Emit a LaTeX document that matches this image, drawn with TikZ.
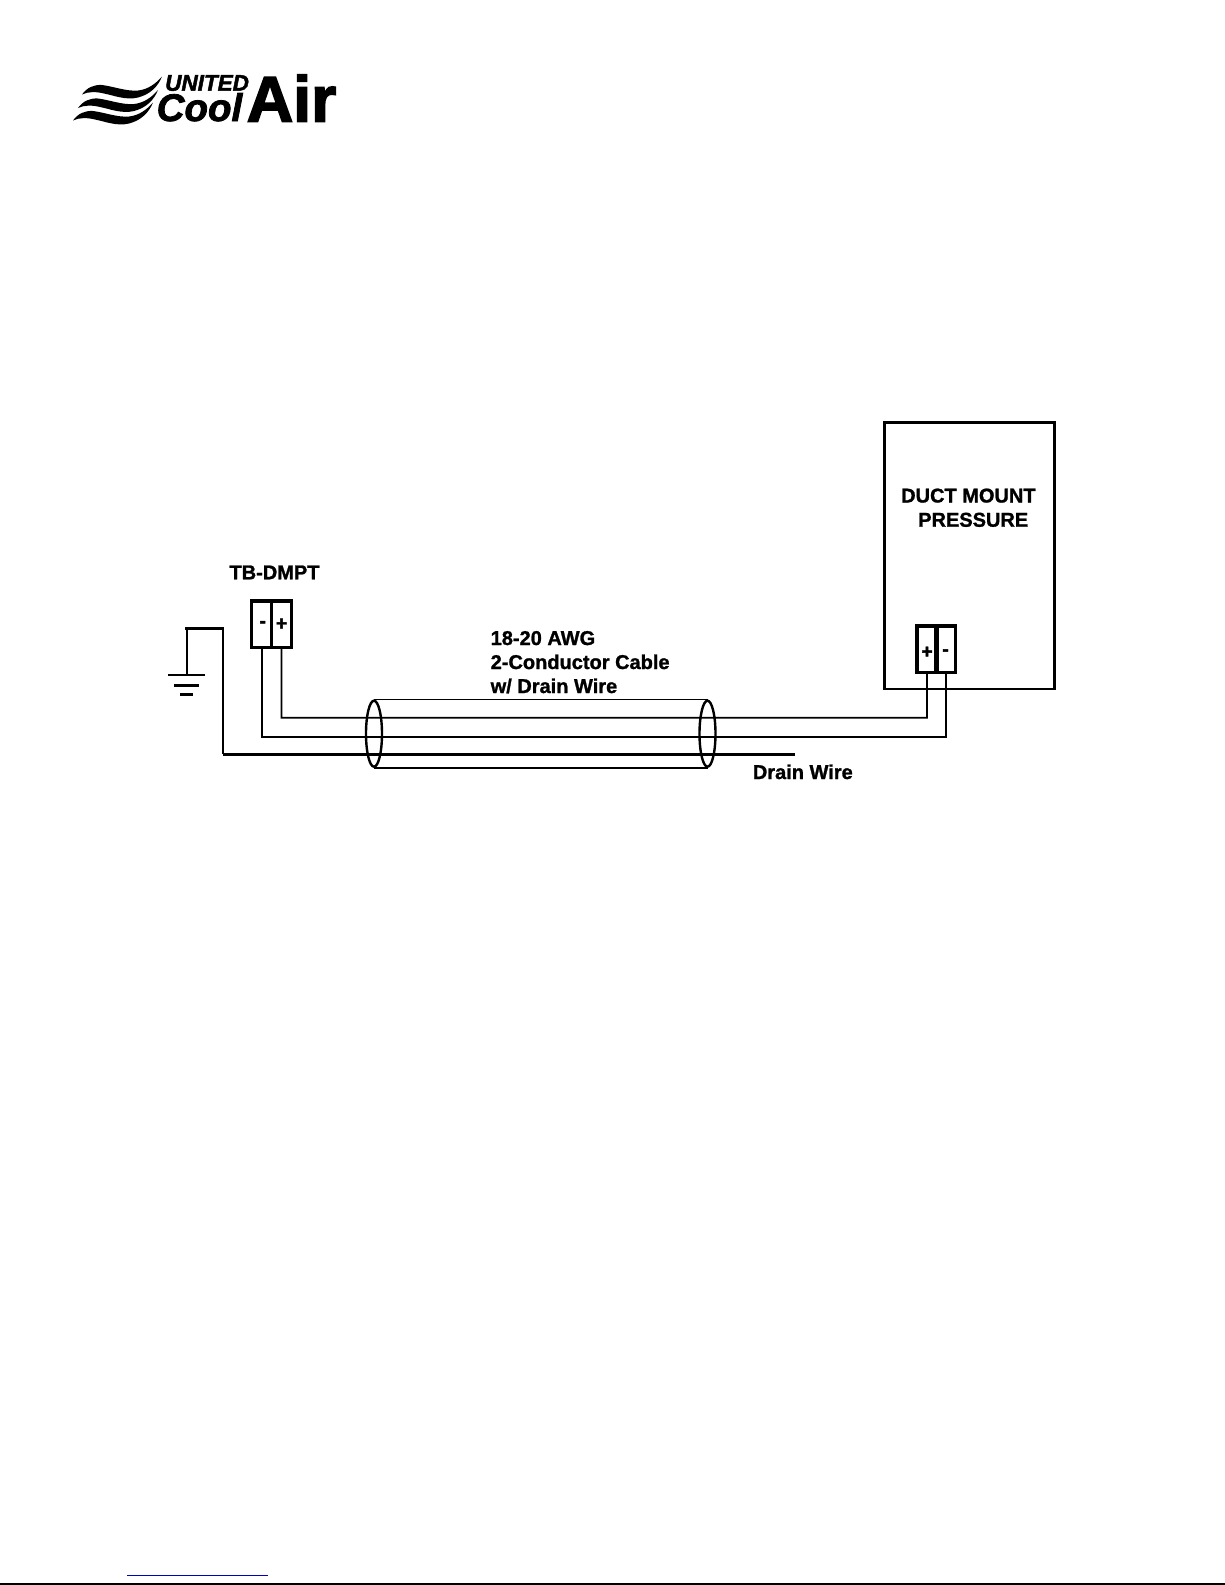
\documentclass[tikz,border=0pt]{standalone}
\usepackage{fontspec}
\setmainfont{Liberation Sans}
\newfontfamily\heavyfont[FakeBold=1.2]{Liberation Sans Bold}
\newfontfamily\logofont[FakeBold=2.5]{Liberation Sans Bold}
\newfontfamily\logoslant[FakeBold=2]{Liberation Sans Bold Italic}
\usepackage{tikz}
\usetikzlibrary{shapes.geometric}
\tikzset{
  wire/.style={line width=1.8pt},
  thickwire/.style={line width=2.9pt},
  termcell/.style={draw,line width=3.2pt,minimum width=20pt,minimum height=46.5pt,inner sep=0pt},
  cableend/.style={draw,ellipse,line width=2.4pt,minimum width=16pt,minimum height=66pt,inner sep=0pt},
  lbl/.style={anchor=base west,inner sep=0pt,font=\fontsize{20}{24}\selectfont\heavyfont},
  sign/.style={inner sep=0pt,font=\fontsize{19}{19}\selectfont\logofont}
}
\newcommand{\swoosh}[1]{\fill[black,shift={(#1)}] (0,0) .. controls (5,-7) and (12,-10) .. (20,-9.5) .. controls (32,-8) and (44,-3) .. (56,-4) .. controls (66,-5) and (74,-11) .. (80,-18) .. controls (76,-8) and (68,0) .. (56,3) .. controls (44,6) and (32,1) .. (22,-1) .. controls (14,-3) and (6,-3) .. (0,0) -- cycle;}

\begin{document}
\begin{tikzpicture}[x=1pt,y=-1pt]

\useasboundingbox (0,0) rectangle (1225,1585);

\swoosh{82,94.5}
\swoosh{78,108}
\swoosh{73,120.5}
\node[anchor=base west,inner sep=0pt,font=\fontsize{22.5}{22}\selectfont\logoslant] (logoUnited) at (165,90.7) {UNITED};
\node[anchor=base west,inner sep=0pt,font=\fontsize{38.5}{38}\selectfont\logoslant] (logoCool) at (156.5,121) {Cool};
\node[anchor=base west,inner sep=0pt,font=\fontsize{64.5}{64}\selectfont\logofont] (logoAir) at (246.5,121.5) {Air};

\node[draw,line width=2.6pt,minimum width=170.4pt,minimum height=266.4pt,inner sep=0pt] (ductBox) at (969.5,555.8) {};
\node[lbl] (ductA) at (901,502.5) {DUCT MOUNT};
\node[lbl] (ductB) at (918,526.7) {PRESSURE};

\node[termcell] (tbMinus) at (261.7,624.2) {};
\node[termcell] (tbPlus) at (281.5,624.2) {};
\node[termcell] (ductPlus) at (927,649.3) {};
\node[termcell] (ductMinus) at (945.6,649.3) {};
\node[sign] (tbMinusSign) at ([xshift=1pt]tbMinus) {-};
\node[sign] (tbPlusSign) at (tbPlus) {+};
\node[sign] (ductPlusSign) at ([yshift=-3pt]ductPlus) {+};
\node[sign] (ductMinusSign) at ([yshift=-3pt]ductMinus) {-};

\node[lbl] (tbLabel) at (229.3,579.3) {TB-DMPT};
\node[lbl] (cableA) at (490.5,645) {18-20 AWG};
\node[lbl] (cableB) at (490.5,669) {2-Conductor Cable};
\node[lbl] (cableC) at (490.5,693) {w/ Drain Wire};
\node[lbl] (drainLabel) at (752.7,779) {Drain Wire};

\node[cableend] (cableL) at (374,733.7) {};
\node[cableend] (cableR) at (707.5,733.7) {};
\draw [line width=1pt] (cableL.north) -- (cableR.north);
\draw [wire] (cableL.south) -- (cableR.south);

\coordinate (plusCorner) at (926.9,717.7);
\coordinate (minusCorner) at (945.6,736.7);
\draw [wire] (tbPlus.south) |- (plusCorner) -- (ductPlus.south);
\draw [wire] (tbMinus.south) |- (minusCorner) -- (ductMinus.south);

\coordinate (drainEnd) at (795,754.2);
\coordinate (drainBend) at (223,754.2);
\coordinate (drainTop) at (223,628.3);
\coordinate (gndTop) at (186.7,628.3);
\coordinate (gndA) at (186.7,675);
\draw [thickwire] (drainEnd) -- (drainBend);
\draw [wire] (drainBend) -- (drainTop);
\draw [thickwire,line cap=rect] (drainTop) -- (gndTop);
\draw [wire] (gndTop) -- (gndA);

\draw [thickwire] (168.3,675) -- (205,675);
\draw [thickwire] (174,685.3) -- (199,685.3);
\draw [thickwire] (180,694.3) -- (192.7,694.3);

\draw [blue!75!black,line width=1.5pt] (127.3,1575.5) -- (268,1575.5);
\draw [line width=2pt] (0,1584) -- (1225,1584);

\end{tikzpicture}
\end{document}
